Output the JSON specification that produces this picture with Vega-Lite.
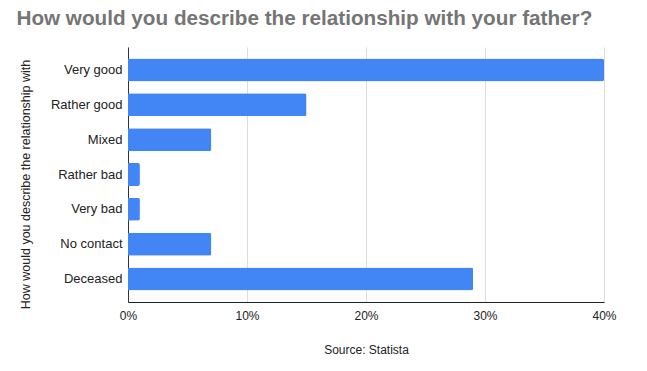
{
  "$schema": "https://vega.github.io/schema/vega-lite/v6.json",
  "width": 476,
  "height": 255,
  "autosize": {"type": "none"},
  "padding": {"left": 128, "top": 47, "right": 43, "bottom": 69},
  "background": "white",
  "title": {
    "text": "How would you describe the relationship with your father?",
    "anchor": "start",
    "dx": -3,
    "offset": 17,
    "font": "Liberation Sans",
    "fontSize": 20.7,
    "fontWeight": "bold",
    "color": "#757575"
  },
  "data": {
    "values": [
      {"category": "Very good", "value": 0.40},
      {"category": "Rather good", "value": 0.15},
      {"category": "Mixed", "value": 0.07},
      {"category": "Rather bad", "value": 0.01},
      {"category": "Very bad", "value": 0.01},
      {"category": "No contact", "value": 0.07},
      {"category": "Deceased", "value": 0.29}
    ]
  },
  "mark": {"type": "bar", "color": "#4285F4", "cornerRadiusEnd": 2},
  "encoding": {
    "y": {
      "field": "category",
      "type": "nominal",
      "sort": null,
      "scale": {"paddingInner": 0.34, "paddingOuter": 0.33},
      "axis": {
        "title": "How would you describe the relationship with",
        "titleFont": "Liberation Sans",
        "titleFontSize": 12.5,
        "titleFontWeight": "normal",
        "titleColor": "#222222",
        "titlePadding": 18,
        "titleY": 137,
        "labelFont": "Liberation Sans",
        "labelFontSize": 13,
        "labelColor": "#222222",
        "labelPadding": 6,
        "ticks": false,
        "domainColor": "#333333",
        "domainWidth": 1
      }
    },
    "x": {
      "field": "value",
      "type": "quantitative",
      "scale": {"domain": [0, 0.4], "nice": false},
      "axis": {
        "format": ".0%",
        "values": [0, 0.1, 0.2, 0.3, 0.4],
        "title": "Source: Statista",
        "titleFont": "Liberation Sans",
        "titleFontSize": 12,
        "titleFontWeight": "normal",
        "titleColor": "#222222",
        "titlePadding": 23,
        "labelFont": "Liberation Sans",
        "labelFontSize": 12,
        "labelColor": "#222222",
        "labelPadding": 8,
        "labelFlush": false,
        "ticks": false,
        "grid": true,
        "gridColor": "#dddddd",
        "domainColor": "#222222",
        "domainWidth": 1
      }
    }
  },
  "config": {"view": {"stroke": null}}
}
